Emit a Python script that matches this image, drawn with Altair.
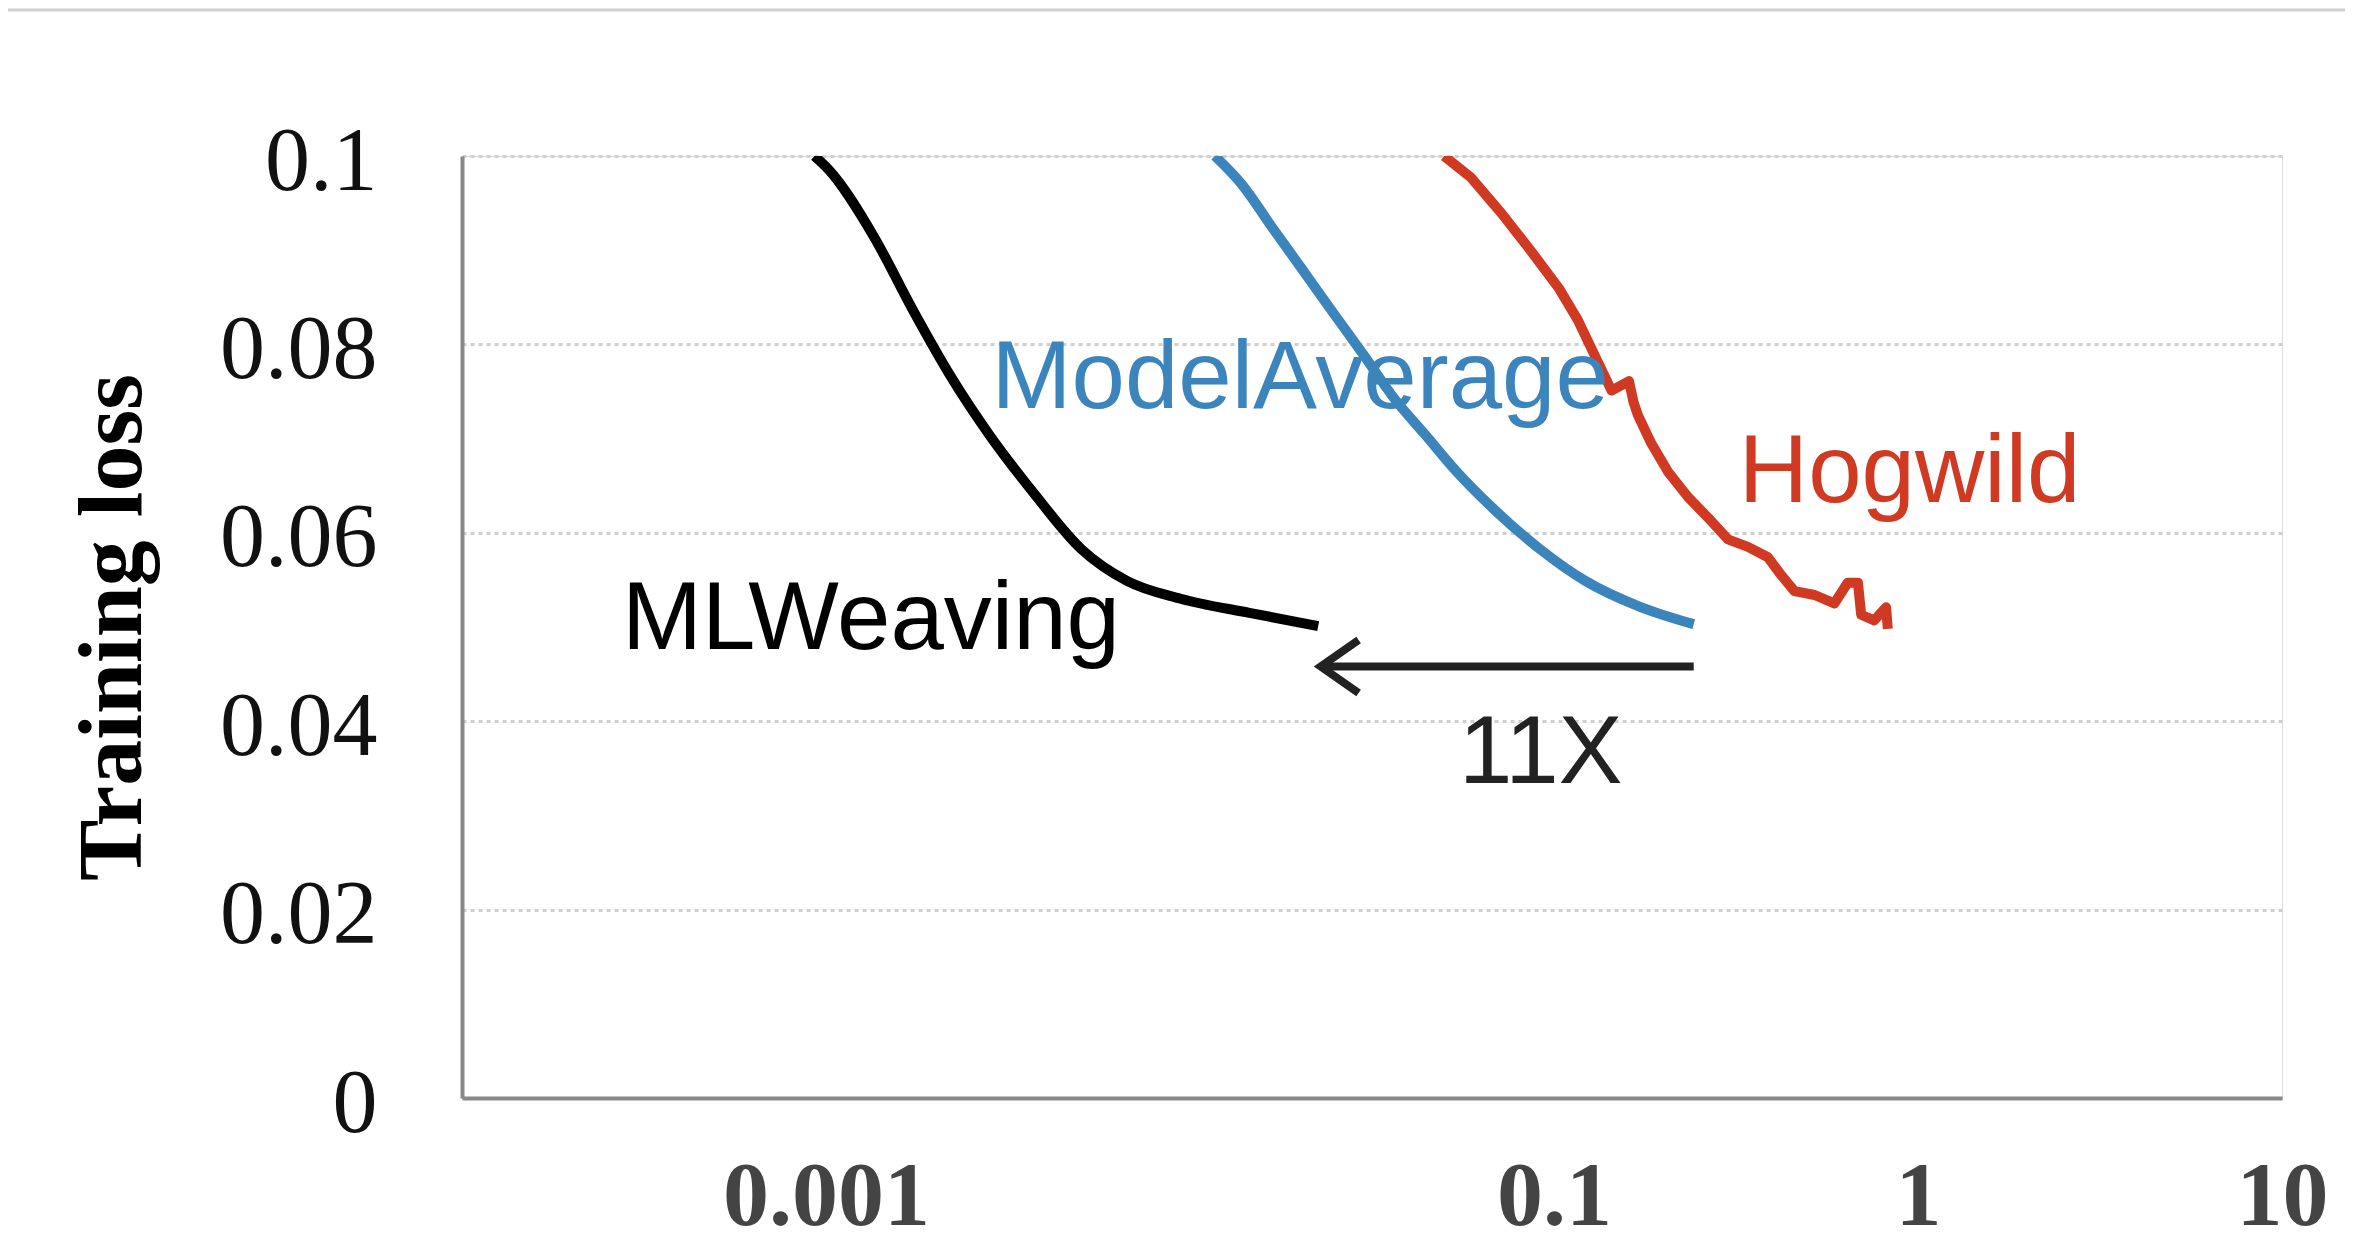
import altair as alt
import pandas as pd

# ---- data ----
mlw_x = [0.00093, 0.00102, 0.00136, 0.00173, 0.00221, 0.00281, 0.00376, 0.00502, 0.00671, 0.00942, 0.01456, 0.0225]
mlw_y = [0.1, 0.0985, 0.0913, 0.0837, 0.0765, 0.0704, 0.0640, 0.0583, 0.0549, 0.0530, 0.0515, 0.0501]

ma_x = [0.0117, 0.01387, 0.01683, 0.0204, 0.0248, 0.0301, 0.0365, 0.0443, 0.0537, 0.0684, 0.0913, 0.1219, 0.171, 0.242]
ma_y = [0.1, 0.0970, 0.0924, 0.0879, 0.0833, 0.0788, 0.0742, 0.0704, 0.0666, 0.0625, 0.0583, 0.0549, 0.0522, 0.0503]

hog_x = [0.0499, 0.0592, 0.0718, 0.0869, 0.103, 0.1162, 0.128, 0.1439, 0.1607, 0.1653, 0.170, 0.185, 0.2055,
         0.2334, 0.265, 0.3006, 0.341, 0.387, 0.421, 0.458, 0.520, 0.589, 0.641, 0.684, 0.698, 0.758, 0.817, 0.826]
hog_y = [0.1, 0.0977, 0.0939, 0.0898, 0.0860, 0.0826, 0.0792, 0.0751, 0.0761, 0.0739, 0.0725, 0.0695, 0.0665,
         0.0638, 0.0616, 0.0593, 0.0585, 0.0574, 0.0555, 0.0538, 0.0534, 0.0525, 0.0547, 0.0547, 0.0513, 0.0507, 0.0521, 0.0498]

series_names = ["MLWeaving", "ModelAverage", "Hogwild"]
series_colors = ["#000000", "#3b84bc", "#d03a22"]

label_text = ["MLWeaving", "ModelAverage", "Hogwild", "11X"]
label_x = [0.000275, 0.00285, 0.322, 0.0548]
label_y = [0.0477, 0.0733, 0.0633, 0.0334]
label_color = ["#000000", "#3b84bc", "#d03a22", "#222222"]

arrow_x_from = [0.242]
arrow_x_to = [0.02286]
arrow_y = [0.0458]

y_ticks = [0, 0.02, 0.04, 0.06, 0.08, 0.1]
x_ticks = [0.001, 0.1, 1, 10]
x_domain = [0.0001, 10]
y_domain = [0, 0.1]

# ---- build tables ----
rows = []
for name, xs, ys in zip(series_names, [mlw_x, ma_x, hog_x], [mlw_y, ma_y, hog_y]):
    for i, (xv, yv) in enumerate(zip(xs, ys)):
        rows.append({"series": name, "x": xv, "y": yv, "i": i})
lines_df = pd.DataFrame(rows)

labels_df = pd.DataFrame({"text": label_text, "x": label_x, "y": label_y, "color": label_color})
arrow_df = pd.DataFrame({"x": arrow_x_from, "x2": arrow_x_to, "y": arrow_y})

xscale = alt.Scale(type="log", domain=x_domain, nice=False)
yscale = alt.Scale(domain=y_domain, nice=False, zero=False)

x_axis = alt.Axis(values=x_ticks, format="~g", title=None, grid=False, ticks=False, tickSize=0,
                  labelFont="Liberation Serif", labelFontWeight="bold", labelFontSize=92,
                  labelColor="#444444", labelPadding=53, labelFlush=False, labelLimit=0,
                  labelOverlap=False,
                  domainColor="#888888", domainWidth=4)
y_axis = alt.Axis(values=y_ticks, format=".2~f", title="Training loss", grid=True,
                  gridColor="#cfcfcf", gridDash=[4, 4], gridWidth=3,
                  ticks=False, tickSize=0, labelFont="Liberation Serif", labelFontSize=90,
                  labelColor="#111111", labelPadding=85, labelOffset=6, labelLimit=0,
                  domainColor="#888888", domainWidth=4,
                  titleFont="Liberation Serif", titleFontWeight="bold", titleFontSize=92,
                  titleColor="#000000", titleAngle=270, titleBaseline="alphabetic",
                  titleAlign="center", titleX=-322, titleY=471)

color_enc = alt.Color("series:N", scale=alt.Scale(domain=series_names, range=series_colors), legend=None)

smooth_lines = alt.Chart(lines_df).transform_filter(
    alt.datum.series != "Hogwild"
).mark_line(strokeWidth=10, strokeJoin="round", interpolate="monotone", clip=True).encode(
    x=alt.X("x:Q", scale=xscale, axis=x_axis),
    y=alt.Y("y:Q", scale=yscale, axis=y_axis),
    color=color_enc,
    order="i:Q",
)

hog_line = alt.Chart(lines_df).transform_filter(
    alt.datum.series == "Hogwild"
).mark_line(strokeWidth=10, strokeJoin="round", clip=True).encode(
    x=alt.X("x:Q", scale=xscale),
    y=alt.Y("y:Q", scale=yscale),
    color=color_enc,
    order="i:Q",
)

texts = alt.Chart(labels_df).mark_text(
    font="Liberation Sans", fontSize=96, align="left", baseline="alphabetic"
).encode(
    x=alt.X("x:Q", scale=xscale),
    y=alt.Y("y:Q", scale=yscale),
    text="text:N",
    color=alt.Color("color:N", scale=None),
)

arrow_line = alt.Chart(arrow_df).mark_rule(strokeWidth=8, color="#222222").encode(
    x=alt.X("x:Q", scale=xscale),
    x2="x2:Q",
    y=alt.Y("y:Q", scale=yscale),
)

arrow_head = alt.Chart(arrow_df).mark_point(
    shape="M1.43,-1L0,0L1.43,1", size=2809, filled=False, strokeWidth=8,
    color="#222222", opacity=1, strokeJoin="miter"
).encode(
    x=alt.X("x2:Q", scale=xscale),
    y=alt.Y("y:Q", scale=yscale),
)

top_border = alt.Chart(arrow_df).mark_rule(color="#d0d0d0", strokeWidth=3).encode(
    x=alt.value(-454), x2=alt.value(1890), y=alt.value(-146)
)

chart = alt.layer(smooth_lines, hog_line, arrow_line, arrow_head, texts, top_border).properties(
    width=1820, height=942,
    autosize=alt.AutoSizeParams(type="none"),
    padding={"left": 454, "top": 148, "right": 63, "bottom": 150},
).configure_view(stroke=None).configure(background="white")

chart.save("out.html", embed_options={"renderer": "svg", "actions": False})
